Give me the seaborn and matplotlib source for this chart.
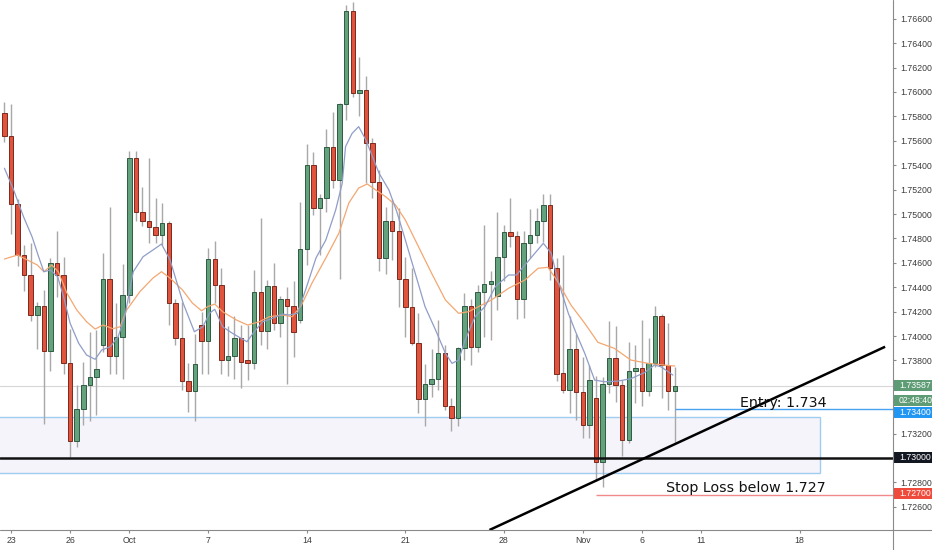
import numpy as np
import pandas as pd
import seaborn as sns
import matplotlib.pyplot as plt
from matplotlib.patches import Rectangle
from matplotlib.lines import Line2D
from matplotlib.ticker import FuncFormatter

# 8h candles (index 0 = last candle of Sep 20)
opens = [1.7583, 1.7564, 1.7508, 1.7466, 1.7450, 1.7417, 1.7425, 1.7388, 1.7460, 1.7450,
         1.7378, 1.7314, 1.7340, 1.7360, 1.7366, 1.7393, 1.7447, 1.7384, 1.7399, 1.7434,
         1.7546, 1.7502, 1.7494, 1.7489, 1.7483, 1.7493, 1.7427, 1.7398, 1.7363, 1.7355,
         1.7409, 1.7396, 1.7463, 1.7442, 1.7380, 1.7384, 1.7398, 1.7380, 1.7378, 1.7436,
         1.7404, 1.7441, 1.7411, 1.7430, 1.7425, 1.7413, 1.7471, 1.7540, 1.7505, 1.7513,
         1.7555, 1.7528, 1.7590, 1.7666, 1.7599, 1.7602, 1.7558, 1.7526, 1.7464, 1.7494,
         1.7486, 1.7447, 1.7424, 1.7394, 1.7348, 1.7361, 1.7365, 1.7386, 1.7343, 1.7333,
         1.7390, 1.7425, 1.7391, 1.7436, 1.7443, 1.7433, 1.7465, 1.7485, 1.7482, 1.7430,
         1.7476, 1.7483, 1.7494, 1.7507, 1.7456, 1.7370, 1.7356, 1.7389, 1.7354, 1.7327,
         1.7349, 1.7297, 1.7361, 1.7382, 1.7360, 1.7315, 1.7371, 1.7374, 1.7355, 1.7378,
         1.7416, 1.7376, 1.7355]
highs = [1.7592, 1.7590, 1.7512, 1.7475, 1.7476, 1.7428, 1.7438, 1.7464, 1.7486, 1.7465,
         1.7406, 1.7360, 1.7379, 1.7403, 1.7405, 1.7468, 1.7506, 1.7427, 1.7459, 1.7552,
         1.7552, 1.7522, 1.7546, 1.7513, 1.7509, 1.7494, 1.7430, 1.7428, 1.7378, 1.7402,
         1.7420, 1.7472, 1.7478, 1.7456, 1.7408, 1.7416, 1.7409, 1.7409, 1.7454, 1.7497,
         1.7446, 1.7460, 1.7433, 1.7440, 1.7445, 1.7510, 1.7557, 1.7551, 1.7516, 1.7570,
         1.7584, 1.7591, 1.7671, 1.7674, 1.7629, 1.7613, 1.7562, 1.7536, 1.7506, 1.7512,
         1.7505, 1.7465, 1.7456, 1.7419, 1.7377, 1.7389, 1.7413, 1.7393, 1.7349, 1.7391,
         1.7435, 1.7430, 1.7442, 1.7491, 1.7453, 1.7502, 1.7491, 1.7513, 1.7486, 1.7486,
         1.7504, 1.7505, 1.7516, 1.7516, 1.7464, 1.7466, 1.7416, 1.7402, 1.7383, 1.7376,
         1.7367, 1.7366, 1.7412, 1.7408, 1.7364, 1.7395, 1.7393, 1.7413, 1.7398, 1.7425,
         1.7418, 1.7411, 1.7375]
lows = [1.7559, 1.7484, 1.7457, 1.7437, 1.7412, 1.7389, 1.7328, 1.7371, 1.7432, 1.7369,
        1.7301, 1.7309, 1.7327, 1.7330, 1.7335, 1.7387, 1.7369, 1.7369, 1.7365, 1.7427,
        1.7494, 1.7490, 1.7476, 1.7476, 1.7475, 1.7409, 1.7393, 1.7356, 1.7338, 1.7330,
        1.7369, 1.7369, 1.7427, 1.7369, 1.7367, 1.7365, 1.7357, 1.7364, 1.7373, 1.7393,
        1.7389, 1.7405, 1.7399, 1.7361, 1.7383, 1.7411, 1.7458, 1.7499, 1.7466, 1.7502,
        1.7521, 1.7447, 1.7577, 1.7596, 1.7580, 1.7525, 1.7513, 1.7453, 1.7451, 1.7462,
        1.7424, 1.7399, 1.7393, 1.7337, 1.7326, 1.7350, 1.7356, 1.7339, 1.7322, 1.7326,
        1.7380, 1.7376, 1.7387, 1.7399, 1.7397, 1.7421, 1.7445, 1.7473, 1.7414, 1.7415,
        1.7464, 1.7476, 1.7477, 1.7446, 1.7363, 1.7353, 1.7337, 1.7331, 1.7316, 1.7316,
        1.7281, 1.7276, 1.7353, 1.7346, 1.7302, 1.7312, 1.7345, 1.7343, 1.7351, 1.7375,
        1.7349, 1.7339, 1.7313]
closes = [1.7564, 1.7508, 1.7466, 1.7450, 1.7417, 1.7425, 1.7388, 1.7460, 1.7450, 1.7378,
          1.7314, 1.7340, 1.7360, 1.7366, 1.7373, 1.7447, 1.7384, 1.7399, 1.7434, 1.7546,
          1.7502, 1.7494, 1.7489, 1.7483, 1.7493, 1.7427, 1.7398, 1.7363, 1.7355, 1.7377,
          1.7396, 1.7463, 1.7442, 1.7380, 1.7384, 1.7398, 1.7379, 1.7378, 1.7436, 1.7404,
          1.7441, 1.7411, 1.7430, 1.7425, 1.7403, 1.7471, 1.7540, 1.7505, 1.7513, 1.7555,
          1.7528, 1.7590, 1.7666, 1.7599, 1.7602, 1.7558, 1.7526, 1.7464, 1.7494, 1.7486,
          1.7447, 1.7424, 1.7394, 1.7348, 1.7361, 1.7365, 1.7386, 1.7343, 1.7333, 1.7390,
          1.7425, 1.7391, 1.7436, 1.7443, 1.7445, 1.7465, 1.7485, 1.7482, 1.7430, 1.7476,
          1.7483, 1.7494, 1.7507, 1.7456, 1.7369, 1.7356, 1.7389, 1.7354, 1.7327, 1.7364,
          1.7297, 1.7361, 1.7382, 1.7360, 1.7315, 1.7371, 1.7374, 1.7355, 1.7378, 1.7416,
          1.7376, 1.7355, 1.73587]

# moving averages as drawn on the chart
fast_idx = [0, 1.4, 2.9, 4.2, 5.2, 6, 7, 8.1, 9, 10, 11.3, 12.5, 13.8, 14.8, 16.1, 17.3, 18.3,
            19.6, 21.1, 22.6, 23.9, 25.2, 27.2, 28.9, 30.2, 31.2, 32, 33.2, 34.7, 36.9, 38,
            39.3, 40.8, 42.3, 43.3, 44.6, 45.9, 47.4, 48.9, 50.4, 51.4, 51.9, 52.9, 53.9, 55,
            56, 57, 58.5, 59.7, 61, 62.5, 64, 65.6, 67.1, 68.1, 69.1, 70.1, 71.6, 73.1, 74.7,
            76.7, 77.9, 79.2, 80.7, 82, 83.2, 84.2, 85.8, 87, 88.3, 89.8, 91.3, 93.3, 95.3,
            97.4, 98.9, 99.9, 101.7]
fast_ma = [1.75375, 1.75197, 1.74978, 1.74814, 1.74650, 1.74527, 1.74541, 1.74486, 1.74322,
           1.74104, 1.73940, 1.73844, 1.73809, 1.73885, 1.73912, 1.73994, 1.74158, 1.74527,
           1.74650, 1.74705, 1.74754, 1.74623, 1.74268, 1.74035, 1.74076, 1.74186, 1.74219,
           1.74076, 1.74022, 1.73953, 1.74035, 1.74117, 1.74145, 1.74180, 1.74172, 1.74186,
           1.74391, 1.74639, 1.74787, 1.75033, 1.75252, 1.75552, 1.75661, 1.75716, 1.75607,
           1.75470, 1.75334, 1.75197, 1.75019, 1.74787, 1.74514, 1.74240, 1.74049, 1.73858,
           1.73776, 1.73803, 1.73967, 1.74158, 1.74240, 1.74404, 1.74500, 1.74500, 1.74582,
           1.74678, 1.74760, 1.74678, 1.74459, 1.74186, 1.74022, 1.73858, 1.73639, 1.73625,
           1.73630, 1.73650, 1.73700, 1.73762, 1.73748, 1.73680]
slow_idx = [0, 2, 5, 6, 7.2, 8.2, 9.5, 11, 12.5, 13.8, 15, 16.5, 17.6, 18.6, 20.6, 22.6, 23.9,
            25.2, 27.1, 28.6, 30, 30.9, 32, 33.2, 35.3, 37, 38.8, 40.3, 42.3, 43.8, 45.2, 46.8,
            48.9, 50.9, 52.4, 53.9, 55.2, 56.5, 58, 59.5, 61, 63, 65, 67.1, 69.1, 70.6, 72.1,
            74.1, 76.7, 79.2, 81.2, 82.7, 84.2, 86.2, 88.3, 90.3, 92.8, 95.3, 97.9, 100.4, 102]
slow_ma = [1.74631, 1.74664, 1.74582, 1.74527, 1.74582, 1.74527, 1.74352, 1.74213, 1.74117,
           1.74057, 1.74090, 1.74060, 1.74076, 1.74213, 1.74363, 1.74475, 1.74527, 1.74475,
           1.74377, 1.74270, 1.74207, 1.74240, 1.74262, 1.74199, 1.74131, 1.74090, 1.74117,
           1.74158, 1.74172, 1.74158, 1.74254, 1.74434, 1.74639, 1.74844, 1.75090, 1.75213,
           1.75246, 1.75197, 1.75142, 1.75074, 1.74951, 1.74732, 1.74514, 1.74295, 1.74186,
           1.74199, 1.74240, 1.74295, 1.74391, 1.74459, 1.74555, 1.74563, 1.74445, 1.74254,
           1.74104, 1.73948, 1.73899, 1.73803, 1.73776, 1.73762, 1.73754]

date_pos = [1, 10, 19, 31, 46, 61, 76, 88, 97, 106, 121]
date_labels = ["23", "26", "Oct", "7", "14", "21", "28", "Nov", "6", "11", "18"]

last_price = 1.73587
entry = 1.734
support = 1.730
stop = 1.727
zone_low, zone_high = 1.72874, 1.73339
trend_x = [73.8, 134.0]
trend_y = [1.7241, 1.73912]

candles = pd.DataFrame({"o": opens, "h": highs, "l": lows, "c": closes})
candles["i"] = np.arange(len(candles))
candles["up"] = candles["c"] >= candles["o"]

sns.set_theme(style="white")
plt.rcParams['font.family'] = ['DejaVu Sans']

fig = plt.figure(figsize=(9.32, 5.5), dpi=100)
ax = fig.add_axes([0, 20 / 550, 893 / 932, 530 / 550])
x0, x1 = -0.674, 135.2
ax.set_xlim(x0, x1)
ax.set_ylim(1.7241, 1.76754)

# support zone
ax.add_patch(Rectangle((x0 - 2, zone_low), 124.1 - x0 + 2, zone_high - zone_low,
                       facecolor='#f6f4fb', edgecolor='#9fcdf2', lw=1, zorder=1))
ax.axhline(last_price, color='#d6d6d6', lw=0.8, zorder=1.5)

# candles
green, green_edge = '#63a27c', '#2f5b43'
red, red_edge = '#e0543e', '#7c2a1e'
ax.vlines(candles["i"], candles["l"], candles["h"], color='#a8a8a8', lw=1, zorder=2)
body_low = candles[["o", "c"]].min(axis=1)
body_h = (candles["c"] - candles["o"]).abs().clip(lower=0.00008)
ax.bar(candles["i"], body_h, bottom=body_low, width=0.68,
       color=np.where(candles["up"], green, red),
       edgecolor=np.where(candles["up"], green_edge, red_edge), lw=0.7, zorder=3)

sns.lineplot(x=slow_idx, y=slow_ma, ax=ax, color='#f4a771', lw=0.9, sort=False,
             estimator=None, zorder=4)
sns.lineplot(x=fast_idx, y=fast_ma, ax=ax, color='#8f9dc8', lw=0.9, sort=False,
             estimator=None, zorder=4)

# trade levels
ax.axhline(support, color='#111111', lw=1.8, zorder=5)
ax.hlines(entry, 102, x1, color='#4aa3f0', lw=1, zorder=5)
ax.hlines(stop, 90, x1, color='#f08a8a', lw=1, zorder=5)
ax.plot(trend_x, trend_y, color='black', lw=1.8, zorder=6, solid_capstyle='butt')

ax.text(111.9, 1.7342, "Entry: 1.734", fontsize=10.3, color='#111111', va='baseline', zorder=7)
ax.text(100.6, 1.72724, "Stop Loss below 1.727", fontsize=10.3, color='#111111',
        va='baseline', zorder=7)

# axes styling; scale labels hidden behind the price boxes are left blank
covered = {"1.73600", "1.73400", "1.73000"}
ax.yaxis.tick_right()
ax.set_yticks(np.arange(1.726, 1.7661, 0.002))
ax.yaxis.set_major_formatter(
    FuncFormatter(lambda v, p: "" if f"{v:.5f}" in covered else f"{v:.5f}"))
ax.set_xticks(date_pos)
ax.set_xticklabels(date_labels)
ax.tick_params(axis='both', labelsize=6.3, colors='#8a8a8a', labelcolor='#3c3c3c',
               length=2.5, width=0.8, direction='out')
ax.tick_params(axis='y', pad=2.5)
ax.tick_params(axis='x', pad=2.0, bottom=True)
for lab in ax.get_xticklabels() + ax.get_yticklabels():
    lab.set_family('Liberation Sans')
for side in ['top', 'left', 'right', 'bottom']:
    ax.spines[side].set_visible(False)
ax.grid(False)

fig.add_artist(Line2D([893 / 932, 893 / 932], [0, 1], color='#8a8a8a', lw=0.8,
                      transform=fig.transFigure))
fig.add_artist(Line2D([0, 1], [20 / 550, 20 / 550], color='#8a8a8a', lw=0.8,
                      transform=fig.transFigure))

# price boxes on the scale
box_h = 11 / 530 * (1.76754 - 1.7241)
def price_box(y, text, face, txt_color='white'):
    ax.add_patch(Rectangle((1.0, y - box_h / 2), 0.05, box_h, transform=ax.get_yaxis_transform(),
                           facecolor=face, edgecolor='none', clip_on=False, zorder=8))
    ax.text(1.0 + 6 / 893, y, text, transform=ax.get_yaxis_transform(), fontsize=6.3,
            family='Liberation Sans', color=txt_color, va='center', ha='left',
            clip_on=False, zorder=9)

price_box(1.73594, "1.73587", '#5e9c76')
price_box(1.73473, "02:48:40", '#5e9c76')
price_box(1.73373, "1.73400", '#2196f3')
price_box(1.73004, "1.73000", '#131722')
price_box(1.72709, "1.72700", '#ef4b3c')

fig.savefig("out.png", dpi=100, facecolor='white')
